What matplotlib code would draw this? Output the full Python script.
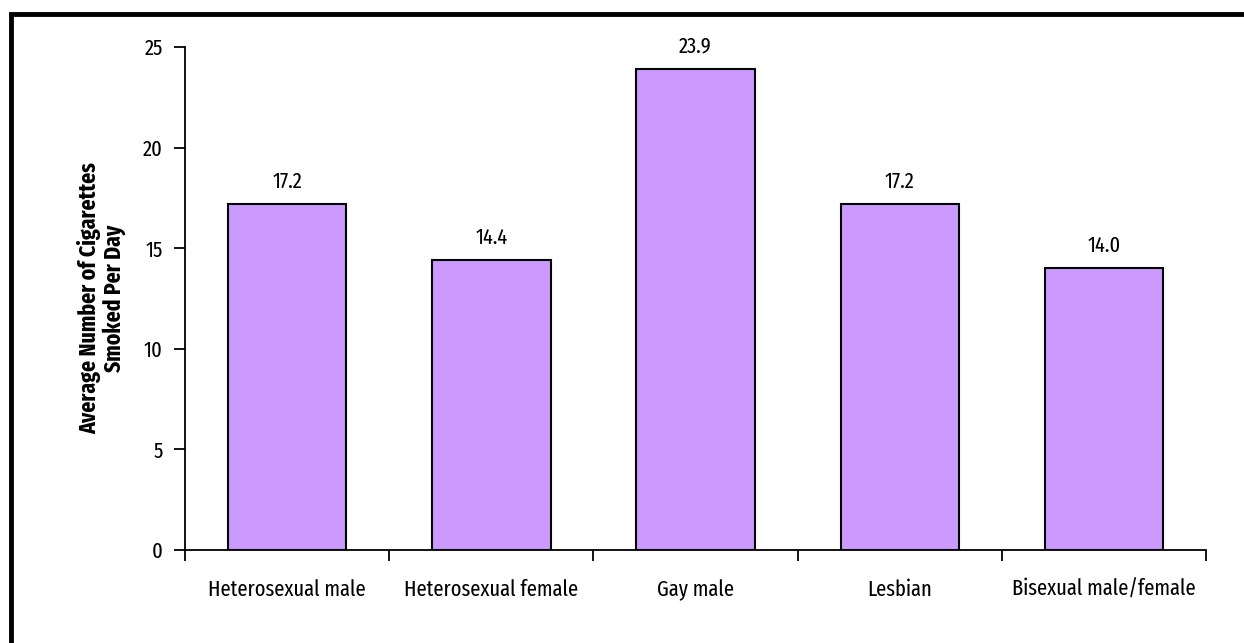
import matplotlib
matplotlib.use("Agg")
import matplotlib.pyplot as plt
from matplotlib.patches import Rectangle
from matplotlib import font_manager

groups = ["Heterosexual male", "Heterosexual female", "Gay male", "Lesbian", "Bisexual male/female"]
cigs_per_day = [17.2, 14.4, 23.9, 17.2, 14.0]
y_ticks = [0, 5, 10, 15, 20, 25]

# condensed face, like the original; fall back to DejaVu condensed
names = {f.name for f in font_manager.fontManager.ttflist}
if "Fira Sans Extra Condensed" in names:
    plt.rcParams["font.family"] = ["Fira Sans Extra Condensed", "DejaVu Sans"]
else:
    plt.rcParams["font.family"] = ["DejaVu Sans"]
    plt.rcParams["font.stretch"] = "condensed"

fig = plt.figure(figsize=(12.44, 6.43), dpi=100)
ax = fig.add_axes([0.1487, 0.1446, 0.8208, 0.7823])

x = range(len(groups))
ax.bar(x, cigs_per_day, width=0.58, color="#CC99FF", edgecolor="black", linewidth=1.5)
for i, v in enumerate(cigs_per_day):
    ax.text(i, v + 0.6, f"{v:.1f}", ha="center", va="bottom", fontsize=16)

ax.set_xlim(-0.5, len(groups) - 0.5)
ax.set_ylim(0, 25)
ax.set_yticks(y_ticks)
ax.tick_params(axis="y", direction="out", length=8, width=1.3, labelsize=16, pad=8)
ax.set_xticks([i - 0.5 for i in range(len(groups) + 1)])
ax.set_xticklabels([])
ax.set_xticks(list(x), minor=True)
ax.set_xticklabels(groups, minor=True, fontsize=16)
ax.tick_params(axis="x", which="major", direction="out", length=8, width=1.3)
ax.tick_params(axis="x", which="minor", length=0, pad=21)
for s in ["top", "right"]:
    ax.spines[s].set_visible(False)
ax.spines["left"].set_linewidth(1.3)
ax.spines["bottom"].set_linewidth(1.3)

ax.set_ylabel("Average Number of Cigarettes\nSmoked Per Day", fontsize=17, fontweight="bold",
              linespacing=1.05)
ax.yaxis.set_label_coords(-0.058, 0.5)

# outer frame, runs off the right and bottom edges
fig.patches.append(Rectangle((0.0088, -0.05), 1.2, 1.029, transform=fig.transFigure,
                             fill=False, edgecolor="black", linewidth=3.5, clip_on=False))

fig.savefig("out.png", dpi=100)
